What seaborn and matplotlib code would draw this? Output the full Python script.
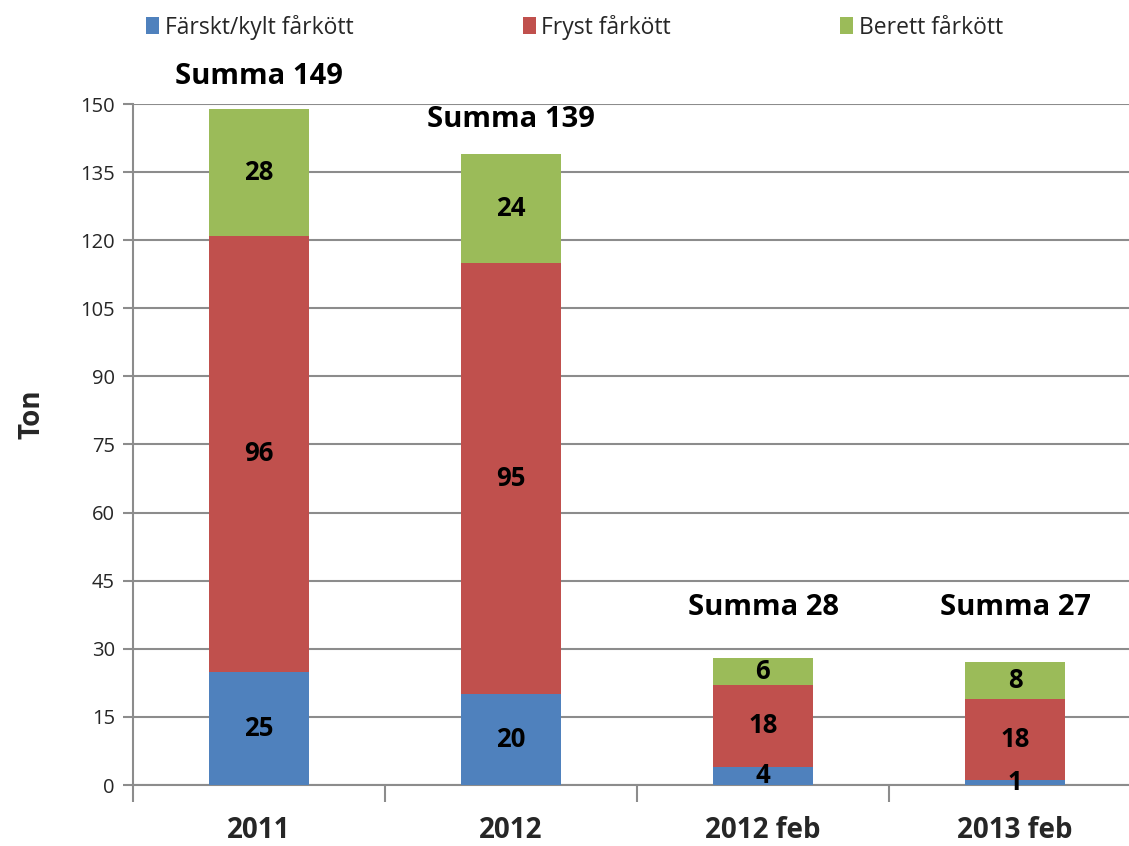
import matplotlib
matplotlib.use("Agg")
import matplotlib.pyplot as plt
import seaborn as sns
import pandas as pd
import numpy as np
from matplotlib.patches import Patch

categories = ["2011", "2012", "2012 feb", "2013 feb"]
farskt = [25, 20, 4, 1]
fryst = [96, 95, 18, 18]
berett = [28, 24, 6, 8]
totals = [149, 139, 28, 27]
series_names = ["Färskt/kylt fårkött", "Fryst fårkött", "Berett fårkött"]
colors = ["#4F81BD", "#C0504D", "#9BBB59"]
yticks = list(range(0, 151, 15))

sns.set_theme(style="white")
plt.rcParams['font.family'] = ['Open Sans', 'DejaVu Sans']

fig = plt.figure(figsize=(11.29, 8.46), dpi=100)
ax = fig.add_axes([133/1129, 1-785/846, (1141-133)/1129, (785-104)/846])

df = pd.DataFrame({"cat": categories, "farskt": farskt, "fryst": fryst, "berett": berett})
df["c2"] = df["farskt"] + df["fryst"]
df["c3"] = df["c2"] + df["berett"]

for col, c in zip(["c3", "c2", "farskt"], [colors[2], colors[1], colors[0]]):
    sns.barplot(data=df, x="cat", y=col, color=c, width=0.4, ax=ax,
                saturation=1, edgecolor="none", linewidth=0, zorder=3)

ax.set_ylim(0, 150)
ax.set_xlim(-0.5, 3.5)
ax.set_yticks(yticks)
ax.set_yticklabels([str(t) for t in yticks], fontsize=14.5)
ax.yaxis.grid(True, color="#8c8c8c", linewidth=1.5, zorder=0)
ax.set_axisbelow(True)
for s in ["top", "right"]:
    ax.spines[s].set_visible(False)
for s in ["left", "bottom"]:
    ax.spines[s].set_color("#8c8c8c")
    ax.spines[s].set_linewidth(1.5)
ax.tick_params(axis="y", which="both", left=True, length=7, width=1.5, color="#8c8c8c", pad=6)

# x ticks: category labels at centers, boundary tick marks
ax.set_xticks(range(len(categories)))
ax.set_xticklabels(categories, fontsize=20, fontweight="bold")
ax.tick_params(axis="x", which="major", length=0, pad=22)
ax.set_xticks(np.arange(-0.5, len(categories) - 0.5, 1.0), minor=True)
ax.tick_params(axis="x", which="minor", bottom=True, length=12, width=1.5, color="#8c8c8c")
ax.set_xlabel("")
ax.set_ylabel("Ton", fontsize=20, fontweight="bold")
ax.yaxis.set_label_coords(-0.086, 0.545)

# segment labels
for i in range(len(categories)):
    segs = [(0, farskt[i]), (farskt[i], fryst[i]), (farskt[i] + fryst[i], berett[i])]
    for b, v in segs:
        ax.text(i, b + v / 2, str(v), ha="center", va="center", fontsize=18.5,
                fontweight="bold", color="black", zorder=5)

summa_y = [156, 146.5, 39, 39]
for i, t in enumerate(totals):
    ax.text(i, summa_y[i], f"Summa {t}", ha="center", va="center", fontsize=21,
            fontweight="bold", color="black", clip_on=False)

handles = [Patch(facecolor=c, edgecolor="none") for c in colors]
fig.legend(handles, series_names, loc="center", bbox_to_anchor=(0.509, 1 - 27/846),
           ncol=3, frameon=False, fontsize=16.5, handlelength=0.55, handleheight=0.75,
           handletextpad=0.25, columnspacing=7.4)

fig.savefig("out.png", dpi=100)
